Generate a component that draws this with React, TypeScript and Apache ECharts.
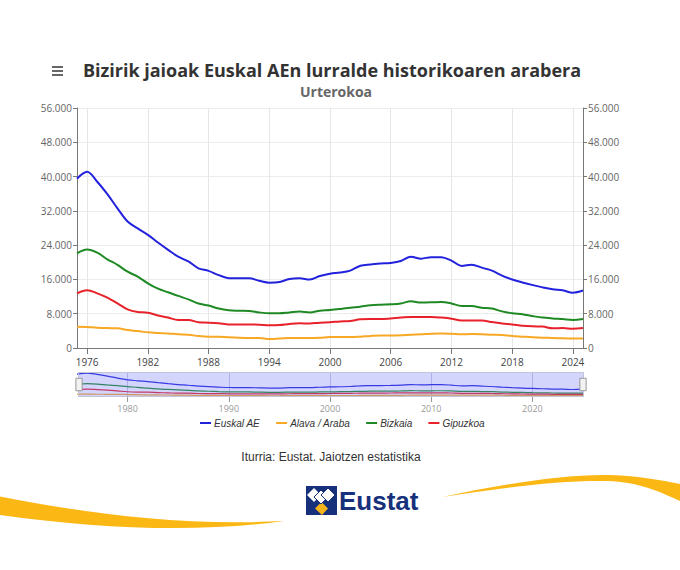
import React, { useEffect, useRef } from "react";
import * as echarts from "echarts";

const years = [
  "1975","1976","1977","1978","1979","1980","1981","1982","1983","1984",
  "1985","1986","1987","1988","1989","1990","1991","1992","1993","1994",
  "1995","1996","1997","1998","1999","2000","2001","2002","2003","2004",
  "2005","2006","2007","2008","2009","2010","2011","2012","2013","2014",
  "2015","2016","2017","2018","2019","2020","2021","2022","2023","2024",
  "2025",
];

const euskalAE = [
  39500, 41100, 38800, 35900, 32600, 29500, 27900, 26400, 24600, 22900,
  21300, 20200, 18600, 18000, 17000, 16300, 16250, 16250, 15700, 15250,
  15400, 16100, 16250, 16000, 16800, 17350, 17600, 18050, 19200, 19500,
  19700, 19850, 20300, 21300, 20850, 21200, 21200, 20400, 19150, 19450,
  18750, 18050, 16900, 16000, 15300, 14700, 14150, 13700, 13450, 12900,
  13400,
];
const araba = [
  4950, 4900, 4750, 4650, 4600, 4200, 3950, 3650, 3500, 3400,
  3200, 3100, 2800, 2650, 2650, 2500, 2400, 2350, 2350, 2100,
  2200, 2350, 2350, 2350, 2400, 2550, 2550, 2550, 2650, 2800,
  2900, 2900, 2950, 3100, 3200, 3350, 3400, 3350, 3200, 3250,
  3200, 3100, 3050, 2800, 2650, 2500, 2400, 2350, 2250, 2200,
  2200,
];
const bizkaia = [
  22100, 23000, 22250, 20700, 19400, 17800, 16650, 15100, 13850, 13000,
  12150, 11350, 10400, 9900, 9200, 8800, 8700, 8650, 8300, 8100,
  8100, 8300, 8500, 8300, 8700, 8850, 9100, 9400, 9650, 9950,
  10100, 10200, 10400, 10900, 10600, 10650, 10750, 10400, 9800, 9800,
  9400, 9200, 8550, 8100, 7850, 7450, 7100, 6900, 6750, 6550,
  6750,
];
const gipuzkoa = [
  12750, 13500, 12750, 11750, 10400, 9000, 8400, 8250, 7600, 7100,
  6550, 6550, 6000, 5900, 5750, 5500, 5500, 5500, 5450, 5300,
  5350, 5600, 5750, 5700, 5900, 6000, 6200, 6300, 6700, 6750,
  6750, 6900, 7100, 7250, 7250, 7250, 7100, 6850, 6400, 6400,
  6400, 6050, 5700, 5500, 5200, 5050, 5000, 4600, 4650, 4500,
  4650,
];

const seriesNames = ["Euskal AE", "Alava / Araba", "Bizkaia", "Gipuzkoa"];
const seriesColors = ["#2222dd", "#f7a824", "#1f8a24", "#e8222a"];
const mainLabelYears = ["1976","1982","1988","1994","2000","2006","2012","2018","2024"];
const navLabelYears = ["1980","1990","2000","2010","2020"];

const titleText = "Bizirik jaioak Euskal AEn lurralde historikoaren arabera";
const subtitleText = "Urterokoa";
const sourceText = "Iturria: Eustat. Jaiotzen estatistika";

const fmt = (v: number) => String(v).replace(/\B(?=(\d{3})+(?!\d))/g, ".");

let registered = false;
function registerShapes() {
  if (registered) return;
  registered = true;
  echarts.graphic.registerShape(
    "swooshLeft",
    echarts.graphic.extendPath(
      "M0,496.5 C90,514 180,526 284,521 C200,533 100,529 0,515 Z",
      {}
    ) as any
  );
  echarts.graphic.registerShape(
    "swooshRight",
    echarts.graphic.extendPath(
      "M442,497 C500,485 560,474 610,475 C640,476 660,480 680,484 L680,501 C660,492 640,482 607,481 C560,480 500,488 442,497 Z",
      {}
    ) as any
  );
}

export default function App() {
  const ref = useRef<HTMLDivElement>(null);

  useEffect(() => {
    document.body.style.margin = "0";
    registerShapes();
    const chart = echarts.init(ref.current!, undefined, { renderer: "svg" });
    const all = [euskalAE, araba, bizkaia, gipuzkoa];
    const mainInterval = (i: number) => mainLabelYears.indexOf(years[i]) >= 0;
    const navInterval = (i: number) => navLabelYears.indexOf(years[i]) >= 0;

    const mainSeries = all.map((d, i) => ({
      name: seriesNames[i],
      type: "line",
      xAxisIndex: 0,
      yAxisIndex: 0,
      data: d,
      smooth: 0.35,
      showSymbol: false,
      symbol: "none",
      lineStyle: { color: seriesColors[i], width: 2 },
      itemStyle: { color: seriesColors[i] },
      z: 3,
    }));
    const navSeries = all.map((d, i) => ({
      name: "nav" + i,
      type: "line",
      xAxisIndex: 1,
      yAxisIndex: 2,
      data: d,
      smooth: 0.35,
      showSymbol: false,
      symbol: "none",
      silent: true,
      lineStyle: { color: seriesColors[i], width: 1.2 },
      z: 2,
    }));

    const yAxisCommon = {
      type: "value",
      min: 0,
      max: 56000,
      interval: 8000,
      gridIndex: 0,
      axisLine: { show: true, lineStyle: { color: "#777", width: 1 } },
      axisTick: { show: true, length: 4, lineStyle: { color: "#777" } },
      axisLabel: {
        color: "#666",
        fontSize: 10,
        fontFamily: "Open Sans",
        margin: 5,
        formatter: (v: number) => fmt(v),
      },
    };

    chart.setOption({
      animation: false,
      backgroundColor: "#ffffff",
      title: [
        {
          text: titleText,
          left: 327,
          textAlign: "center",
          top: 56,
          textStyle: {
            fontFamily: "Open Sans",
            fontSize: 18,
            fontWeight: "bold",
            color: "#333333",
          },
        },
        {
          text: subtitleText,
          left: 331,
          textAlign: "center",
          top: 79,
          textStyle: {
            fontFamily: "Open Sans",
            fontSize: 14,
            fontWeight: "bold",
            color: "#666666",
          },
        },
      ],
      legend: {
        data: seriesNames,
        left: 200,
        top: 418,
        padding: 0,
        itemGap: 16,
        itemWidth: 11,
        itemHeight: 2,
        icon: "rect",
        textStyle: {
          fontFamily: "Liberation Sans",
          fontSize: 10,
          fontStyle: "italic",
          color: "#333",
          padding: [0, 0, 0, -2],
        },
      },
      grid: [
        { left: 77, right: 97, top: 108, height: 240 },
        { left: 77, right: 97, top: 372, height: 25 },
      ],
      xAxis: [
        {
          type: "category",
          gridIndex: 0,
          data: years,
          boundaryGap: false,
          axisLine: { show: true, lineStyle: { color: "#777" } },
          axisTick: { show: true, length: 6, interval: mainInterval, lineStyle: { color: "#777" } },
          axisLabel: {
            interval: mainInterval,
            color: "#444",
            fontSize: 10,
            fontFamily: "Open Sans",
            margin: 9,
          },
          splitLine: { show: true, interval: mainInterval, lineStyle: { color: "#e6e6e6" } },
        },
        {
          type: "category",
          gridIndex: 1,
          data: years,
          boundaryGap: false,
          axisLine: { show: false },
          axisTick: { show: true, length: 5, interval: navInterval, lineStyle: { color: "#999" } },
          axisLabel: {
            interval: navInterval,
            color: "#999",
            fontSize: 9,
            fontFamily: "Open Sans",
            margin: 7,
          },
          splitLine: { show: true, interval: navInterval, lineStyle: { color: "#c8cbe6" } },
        },
      ],
      yAxis: [
        {
          ...yAxisCommon,
          position: "left",
          splitLine: { show: true, lineStyle: { color: "#ececec" } },
        },
        {
          ...yAxisCommon,
          position: "right",
          splitLine: { show: false },
        },
        {
          type: "value",
          gridIndex: 1,
          min: 0,
          max: 43000,
          show: false,
          splitLine: { show: false },
        },
      ],
      dataZoom: [
        {
          type: "slider",
          xAxisIndex: 0,
          left: 77,
          right: 97,
          top: 372,
          height: 25,
          start: 0,
          end: 100,
          showDetail: false,
          showDataShadow: false,
          brushSelect: false,
          moveHandleSize: 0,
          backgroundColor: "rgba(0,0,0,0)",
          borderColor: "#c4c4d8",
          fillerColor: "rgba(108,116,245,0.30)",
          handleIcon: "path://M0,0 L7,0 L7,14 L0,14 Z",
          handleSize: "50%",
          handleStyle: { color: "#f2f2f2", borderColor: "#999", borderWidth: 1 },
          emphasis: { handleStyle: { color: "#f2f2f2", borderColor: "#999" } },
          zoomLock: false,
        },
      ],
      graphic: [
        { type: "rect", shape: { x: 52, y: 66, width: 11, height: 2 }, style: { fill: "#666" } },
        { type: "rect", shape: { x: 52, y: 70, width: 11, height: 2 }, style: { fill: "#666" } },
        { type: "rect", shape: { x: 52, y: 74, width: 11, height: 2 }, style: { fill: "#666" } },
        {
          type: "text",
          x: 331,
          y: 457,
          style: {
            text: sourceText,
            fontFamily: "Liberation Sans",
            fontSize: 12,
            fill: "#333",
            align: "center",
            verticalAlign: "middle",
          },
        },
        { type: "swooshLeft", x: 0, y: 0, style: { fill: "#fbb814" } },
        { type: "swooshRight", x: 0, y: 0, style: { fill: "#fbb814" } },
        { type: "rect", shape: { x: 306, y: 486, width: 31, height: 29 }, style: { fill: "#17307c" } },
        {
          type: "polygon",
          shape: { points: [[321.5, 502], [328, 508.5], [322, 515], [315, 508.5]] },
          style: { fill: "#f5b41a" },
        },
        {
          type: "polygon",
          shape: { points: [[314, 488], [321, 495], [314, 502], [307, 495]] },
          style: { fill: "#ffffff" },
        },
        {
          type: "polygon",
          shape: { points: [[321, 490], [328, 497], [321, 504], [314, 497]] },
          style: { fill: "#ffffff", stroke: "#17307c", lineWidth: 1 },
        },
        {
          type: "polygon",
          shape: { points: [[328, 488], [335, 495], [328, 502], [321, 495]] },
          style: { fill: "#ffffff", stroke: "#17307c", lineWidth: 1 },
        },
        {
          type: "text",
          x: 339,
          y: 501,
          style: {
            text: "Eustat",
            fontFamily: "Liberation Sans",
            fontWeight: "bold",
            fontSize: 26,
            fill: "#17307c",
            verticalAlign: "middle",
          },
        },
      ],
      series: [...mainSeries, ...navSeries],
    });
    return () => chart.dispose();
  }, []);

  return <div ref={ref} style={{ width: 680, height: 570 }} />;
}
